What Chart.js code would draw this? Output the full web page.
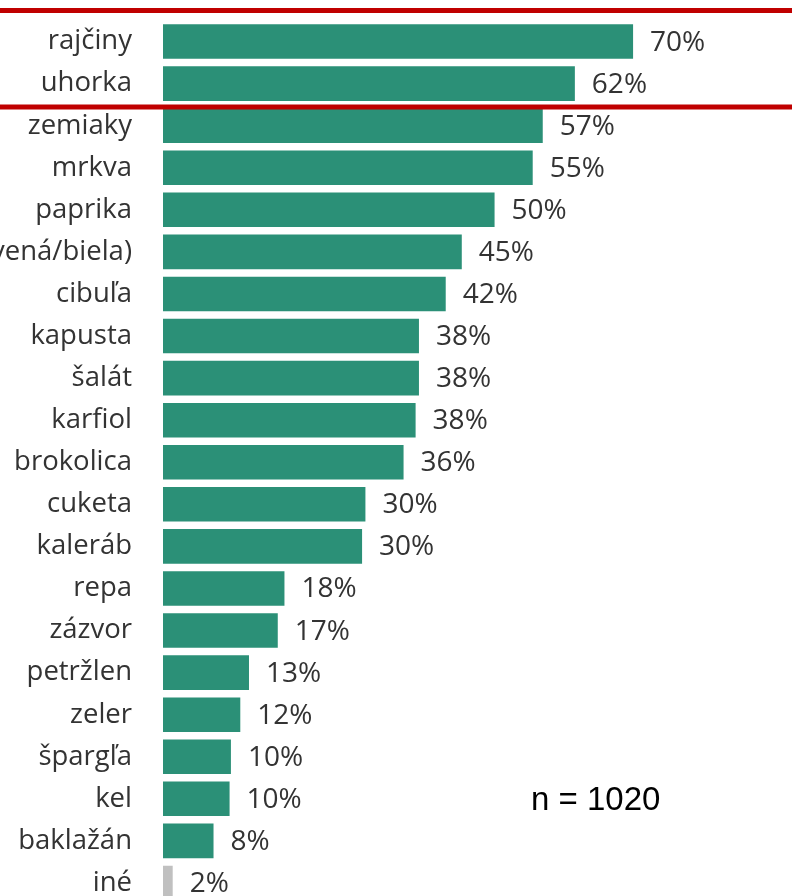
<!DOCTYPE html>
<html>
<head>
<meta charset="utf-8">
<script src="https://cdn.jsdelivr.net/npm/chart.js@4"></script>
<style>
  body { margin: 0; overflow: hidden; background: #fff; }
</style>
</head>
<body>
<canvas id="myChart" width="792" height="904"></canvas>
<script>
const categories = ['rajčiny', 'uhorka', 'zemiaky', 'mrkva', 'paprika', 'reďkovka (červená/biela)', 'cibuľa',
    'kapusta', 'šalát', 'karfiol', 'brokolica', 'cuketa', 'kaleráb', 'repa', 'zázvor', 'petržlen',
    'zeler', 'špargľa', 'kel', 'baklažán', 'iné'];
const shares = [70.4, 61.7, 56.9, 55.4, 49.7, 44.8, 42.4, 38.4, 38.4, 37.9, 36.1, 30.4, 29.9,
    18.3, 17.3, 13.0, 11.7, 10.3, 10.1, 7.7, 1.6];
const barColors = categories.map(c => c === 'iné' ? '#c0c0c0' : '#2b9077');
const sampleNote = 'n = 1020';

const valueLabels = {
    id: 'valueLabels',
    afterDatasetsDraw(chart) {
        const ctx = chart.ctx;
        const meta = chart.getDatasetMeta(0);
        ctx.save();
        ctx.font = '28px "Open Sans", "Noto Sans", sans-serif';
        ctx.fillStyle = '#333333';
        ctx.textAlign = 'left';
        ctx.textBaseline = 'middle';
        meta.data.forEach((bar, i) => {
            ctx.fillText(Math.round(shares[i]) + '%', bar.x + 16, bar.y + 1);
        });
        ctx.restore();
    }
};

const highlight = {
    id: 'highlight',
    afterDraw(chart) {
        const ctx = chart.ctx;
        const y = chart.scales.y;
        const top = y.getPixelForValue(0) - 31;
        const bottom = y.getPixelForValue(1) + 23.5;
        ctx.save();
        ctx.strokeStyle = '#c00000';
        ctx.lineWidth = 5;
        [top, bottom].forEach(p => {
            ctx.beginPath();
            ctx.moveTo(0, p);
            ctx.lineTo(chart.width, p);
            ctx.stroke();
        });
        // n note
        ctx.font = '33px "Liberation Sans", sans-serif';
        ctx.fillStyle = '#000';
        ctx.textAlign = 'left';
        ctx.textBaseline = 'middle';
        ctx.fillText(sampleNote, 531, 801);
        ctx.restore();
    }
};

const ctx = document.getElementById('myChart').getContext('2d');
const myChart = new Chart(ctx, {
    type: 'bar',
    data: {
        labels: categories,
        datasets: [{
            data: shares,
            backgroundColor: barColors,
            borderColor: 'rgba(255,255,255,0.25)',
            borderWidth: 1,
            barPercentage: 0.87,
            categoryPercentage: 1
        }]
    },
    options: {
        indexAxis: 'y',
        responsive: false,
        animation: false,
        layout: { padding: { top: 20.5, right: 0, bottom: 0, left: 0 } },
        plugins: { legend: { display: false }, tooltip: { enabled: false } },
        scales: {
            x: { display: false, min: 0, max: 94 },
            y: {
                afterFit(scale) {
                    scale.width = 163;
                    scale.paddingTop = 0;
                    scale.paddingBottom = 0;
                },
                grid: { display: false, drawTicks: false },
                border: { display: false },
                ticks: {
                    padding: 31,
                    color: '#333333',
                    font: { family: '"Open Sans", "Noto Sans", sans-serif', size: 27.5 }
                }
            }
        }
    },
    plugins: [valueLabels, highlight]
});
</script>
</body>
</html>
